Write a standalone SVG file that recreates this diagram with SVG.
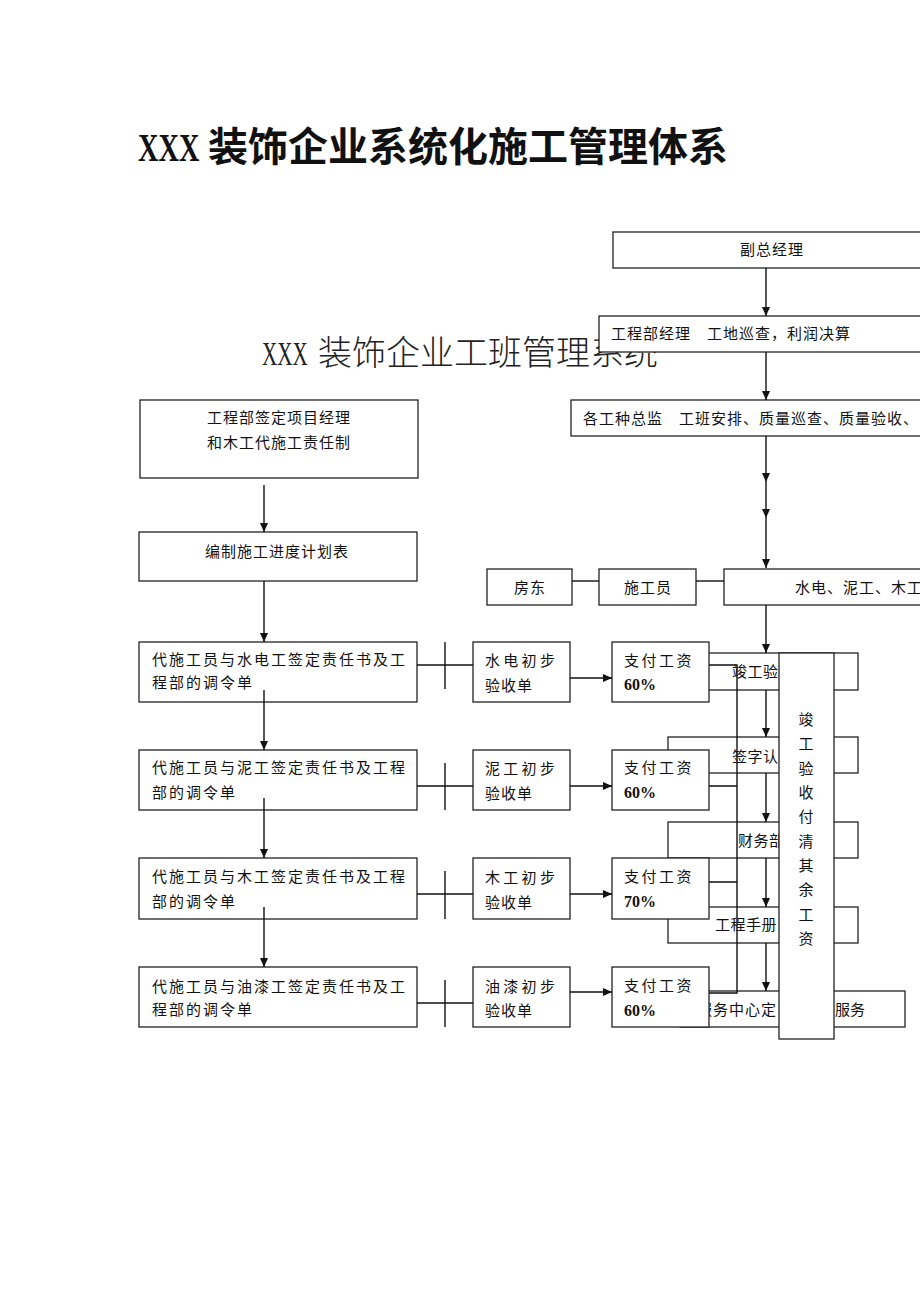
<svg xmlns="http://www.w3.org/2000/svg" width="920" height="1302" viewBox="0 0 920 1302">
<style>
.b{fill:#fff;stroke:#222;stroke-width:1.3}
.t{font-family:"Noto Sans CJK SC","Noto Sans CJK JP",sans-serif;font-size:15px;fill:#111;letter-spacing:1px}
.w{letter-spacing:2px}
.s{letter-spacing:3.3px}
.ln{stroke:#111;stroke-width:1.4;fill:none}
.ar{stroke:#111;stroke-width:1.4;fill:none;marker-end:url(#ah)}
.pct{font-family:"Liberation Serif",serif;font-weight:bold;font-size:16px;fill:#111}
.m{text-anchor:middle}
</style>
<defs>
<marker id="ah" markerWidth="10" markerHeight="10" refX="9" refY="5" orient="auto" markerUnits="userSpaceOnUse"><path d="M0,1 L9,5 L0,9 z" fill="#111"/></marker>
</defs>

<g id="title">
<text transform="translate(138,161) scale(0.71,1)" font-family="Liberation Serif,serif" font-weight="bold" font-size="40" fill="#111">XXX</text>
<text x="208" y="161" font-family="Noto Sans CJK SC,sans-serif" font-weight="bold" font-size="40" fill="#111">装饰企业系统化施工管理体系</text>
</g>
<g id="subtitle">
<text transform="translate(262,365) scale(0.62,1)" font-family="Liberation Serif,serif" font-size="34" fill="#222">XXX</text>
<text x="318" y="365" font-family="Noto Sans CJK SC,sans-serif" font-weight="300" font-size="34" fill="#222">装饰企业工班管理系统</text>
</g>

<g id="n-fzjl"><rect class="b" x="613" y="232" width="320" height="36"/><text class="t m" x="772" y="255">副总经理</text></g>
<g id="n-gcbjl"><rect class="b" x="599" y="316" width="330" height="36"/><text class="t" x="611" y="339">工程部经理　工地巡查，利润决算</text></g>
<g id="n-gzzj"><rect class="b" x="571" y="400" width="360" height="36"/><text class="t" x="583" y="424">各工种总监　工班安排、质量巡查、质量验收、</text></g>
<g id="n-fd"><rect class="b" x="487" y="569" width="85" height="36"/><text class="t m" x="530" y="593">房东</text></g>
<g id="n-sgy"><rect class="b" x="599" y="569" width="97" height="36"/><text class="t m" x="648" y="593">施工员</text></g>
<g id="n-gz"><rect class="b" x="724" y="569" width="210" height="36"/><text class="t" x="795" y="593">水电、泥工、木工</text></g>

<g id="n-jgys"><rect class="b" x="668" y="653" width="190" height="37"/><text class="t" x="732" y="677" style="letter-spacing:0.5px">竣工验</text></g>
<g id="n-qzrk"><rect class="b" x="668" y="737" width="190" height="36"/><text class="t" x="732" y="762" style="letter-spacing:0.5px">签字认</text></g>
<g id="n-cwb"><rect class="b" x="668" y="822" width="190" height="36"/><text class="t" x="738" y="846" style="letter-spacing:0.5px">财务部</text></g>
<g id="n-gcsc"><rect class="b" x="668" y="907" width="190" height="36"/><text class="t" x="715" y="930" style="letter-spacing:0.5px">工程手册</text></g>
<g id="n-fwzx"><rect class="b" x="680" y="991" width="225" height="36"/><text class="t" x="697" y="1015">服务中心定</text><text class="t" x="835" y="1015" style="letter-spacing:0">服务</text></g>

<g id="n-left1"><rect class="b" x="140" y="400" width="278" height="78"/><text class="t m" x="279" y="423">工程部签定项目经理</text><text class="t m" x="279" y="448">和木工代施工责任制</text></g>
<g id="n-bz"><rect class="b" x="139" y="532" width="278" height="49"/><text class="t" x="205" y="557">编制施工进度计划表</text></g>

<g id="n-row1"><rect class="b" x="139" y="642" width="278" height="60"/><text class="t w" x="152" y="665">代施工员与水电工签定责任书及工</text><text class="t w" x="152" y="688">程部的调令单</text></g>
<g id="n-row2"><rect class="b" x="139" y="750" width="278" height="60"/><text class="t w" x="152" y="773">代施工员与泥工签定责任书及工程</text><text class="t w" x="152" y="798">部的调令单</text></g>
<g id="n-row3"><rect class="b" x="139" y="858" width="278" height="61"/><text class="t w" x="152" y="882">代施工员与木工签定责任书及工程</text><text class="t w" x="152" y="907">部的调令单</text></g>
<g id="n-row4"><rect class="b" x="139" y="967" width="278" height="60"/><text class="t w" x="152" y="992">代施工员与油漆工签定责任书及工</text><text class="t w" x="152" y="1015">程部的调令单</text></g>

<g id="n-ys1"><rect class="b" x="473" y="642" width="97" height="60"/><text class="t s" x="485" y="666">水电初步</text><text class="t" x="485" y="691">验收单</text></g>
<g id="n-ys2"><rect class="b" x="473" y="750" width="97" height="60"/><text class="t s" x="485" y="774">泥工初步</text><text class="t" x="485" y="799">验收单</text></g>
<g id="n-ys3"><rect class="b" x="473" y="858" width="97" height="61"/><text class="t s" x="485" y="883">木工初步</text><text class="t" x="485" y="908">验收单</text></g>
<g id="n-ys4"><rect class="b" x="473" y="967" width="97" height="60"/><text class="t s" x="485" y="992">油漆初步</text><text class="t" x="485" y="1016">验收单</text></g>

<g id="n-zf1"><rect class="b" x="612" y="642" width="97" height="60"/><text class="t" x="624" y="666" style="letter-spacing:2.5px">支付工资</text><text class="pct" x="624" y="690">60%</text></g>
<g id="n-zf2"><rect class="b" x="612" y="750" width="97" height="60"/><text class="t" x="624" y="773" style="letter-spacing:2.5px">支付工资</text><text class="pct" x="624" y="798">60%</text></g>
<g id="n-zf3"><rect class="b" x="612" y="858" width="97" height="61"/><text class="t" x="624" y="882" style="letter-spacing:2.5px">支付工资</text><text class="pct" x="624" y="907">70%</text></g>
<g id="n-zf4"><rect class="b" x="612" y="967" width="97" height="60"/><text class="t" x="624" y="991" style="letter-spacing:2.5px">支付工资</text><text class="pct" x="624" y="1016">60%</text></g>

<g id="n-qqgz"><rect class="b" x="779" y="653" width="55" height="386"/>
<g class="t m" style="letter-spacing:0">
<text x="806" y="725">竣</text><text x="806" y="749">工</text><text x="806" y="774">验</text><text x="806" y="798">收</text><text x="806" y="822">付</text><text x="806" y="847">清</text><text x="806" y="871">其</text><text x="806" y="895">余</text><text x="806" y="920">工</text><text x="806" y="944">资</text>
</g></g>

<g id="connectors">
<line class="ar" x1="766" y1="268" x2="766" y2="316"/>
<line class="ar" x1="766" y1="352" x2="766" y2="400"/>
<line class="ar" x1="766" y1="436" x2="766" y2="482"/>
<line class="ar" x1="766" y1="482" x2="766" y2="518"/>
<line class="ar" x1="766" y1="518" x2="766" y2="568"/>
<line class="ln" x1="572" y1="581" x2="599" y2="581"/>
<line class="ln" x1="696" y1="581" x2="724" y2="581"/>
<line class="ar" x1="766" y1="605" x2="766" y2="653"/>
<line class="ar" x1="766" y1="690" x2="766" y2="737"/>
<line class="ar" x1="766" y1="773" x2="766" y2="822"/>
<line class="ar" x1="766" y1="858" x2="766" y2="907"/>
<line class="ar" x1="766" y1="943" x2="766" y2="991"/>
<path class="ln" d="M709,665 H737 V993 H709 M709,786 H737 M709,882 H737"/>
<line class="ar" x1="264" y1="485" x2="264" y2="532"/>
<line class="ar" x1="264" y1="581" x2="264" y2="642"/>
<line class="ar" x1="264" y1="690" x2="264" y2="750"/>
<line class="ar" x1="264" y1="798" x2="264" y2="858"/>
<line class="ar" x1="264" y1="907" x2="264" y2="967"/>
<line class="ln" x1="417" y1="665" x2="473" y2="665"/><line class="ln" x1="445" y1="642" x2="445" y2="689"/>
<line class="ln" x1="417" y1="786" x2="473" y2="786"/><line class="ln" x1="445" y1="763" x2="445" y2="810"/>
<line class="ln" x1="417" y1="894" x2="473" y2="894"/><line class="ln" x1="445" y1="871" x2="445" y2="919"/>
<line class="ln" x1="417" y1="1003" x2="473" y2="1003"/><line class="ln" x1="445" y1="980" x2="445" y2="1027"/>
<line class="ar" x1="570" y1="678" x2="612" y2="678"/>
<line class="ar" x1="570" y1="786" x2="612" y2="786"/>
<line class="ar" x1="570" y1="894" x2="612" y2="894"/>
<line class="ar" x1="570" y1="992" x2="612" y2="992"/>
</g>
</svg>
